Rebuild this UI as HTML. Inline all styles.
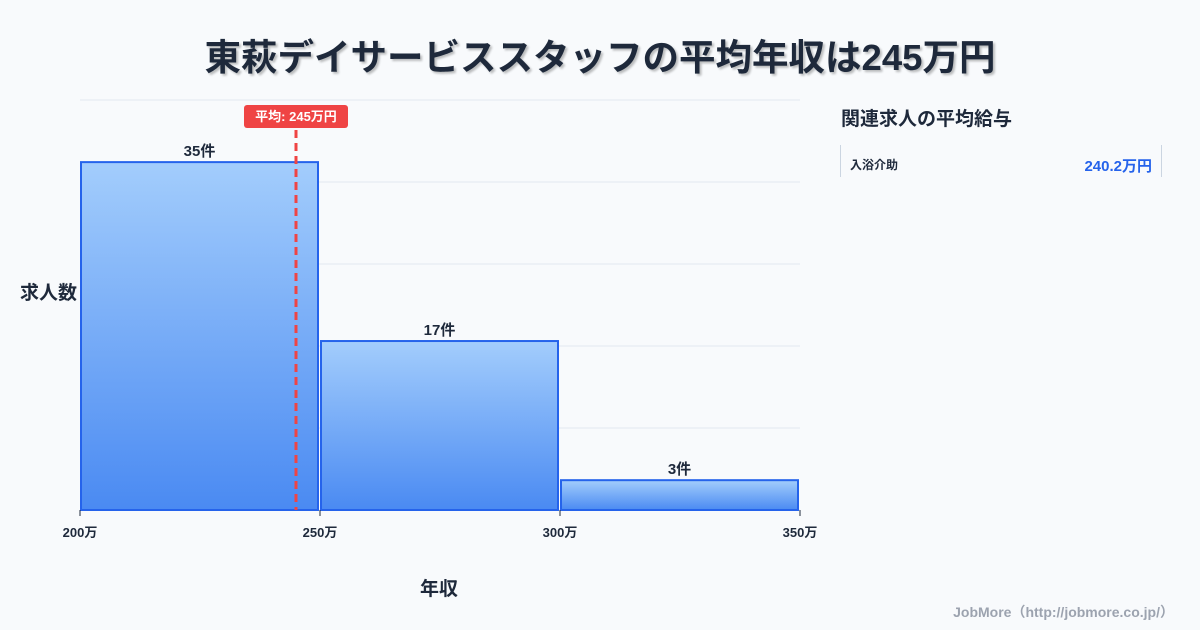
<!DOCTYPE html>
<html><head><meta charset="utf-8"><style>
body{margin:0;width:1200px;height:630px;background:#f8fafc;font-family:"Liberation Sans","Noto Sans CJK JP",sans-serif;overflow:hidden;position:relative}
.t{position:absolute;white-space:nowrap}
</style></head><body>
<div class="t" style="left:0;width:1200px;top:28px;text-align:center;font-size:36.5px;font-weight:bold;color:#1e293b;text-shadow:2px 2px 2px rgba(0,0,0,0.25)">東萩デイサービススタッフの平均年収は245万円</div>
<svg id="c" width="1200" height="630" style="position:absolute;left:0;top:0">
<defs><linearGradient id="g" x1="0" y1="0" x2="0" y2="1"><stop offset="0" stop-color="#a3cdfc"/><stop offset="1" stop-color="#4a8af2"/></linearGradient></defs>
</svg>
<div class="t" style="left:20px;top:278px;font-size:19px;font-weight:bold;color:#1e293b">求人数</div>
<div class="t" style="left:420px;top:574px;font-size:19px;font-weight:bold;color:#1e293b">年収</div>
<div class="t" style="left:841px;top:104px;font-size:19px;font-weight:bold;color:#1e293b">関連求人の平均給与</div>
<div style="position:absolute;left:840px;top:145px;width:320px;height:32px;border-left:1px solid #cbd5e1;border-right:1px solid #cbd5e1">
<span class="t" style="left:9px;top:11px;font-size:12px;font-weight:bold;color:#1e293b">入浴介助</span>
<span class="t" style="right:9px;top:10px;font-size:15px;font-weight:bold;color:#2563eb">240.2万円</span>
</div>
<div class="t" style="right:26px;top:602px;font-size:14px;font-weight:bold;color:#9ca3af">JobMore（http://jobmore.co.jp/）</div>
<script>
const binStarts=[200,250,300];
const binEnds=[250,300,350];
const counts=[35,17,3];
const xTicks=[200,250,300,350];
const avgValue=245;
const NS="http://www.w3.org/2000/svg";
const svg=document.getElementById('c');
const X0=80,X1=800,Y0=510,Y1=100,xmin=200,xmax=350,ymax=41.25;
const x=v=>X0+(v-xmin)/(xmax-xmin)*(X1-X0);
const y=v=>Y0-v/ymax*(Y0-Y1);
function el(t,a){const e=document.createElementNS(NS,t);for(const k in a)e.setAttribute(k,a[k]);svg.appendChild(e);return e;}
for(let i=0;i<=5;i++){const gy=Y1+i*(Y0-Y1)/5;const l=el('line',{x1:X0,x2:X1,y1:gy,y2:gy,stroke:'#e2e8f0','stroke-width':1});

}
counts.forEach((c,i)=>{
const bx=x(binStarts[i])+1,bw=x(binEnds[i])-x(binStarts[i])-3;
const r=el('rect',{x:bx,y:y(c),width:bw,height:Y0-y(c),fill:'url(#g)',stroke:'#2563eb','stroke-width':2});


const t=el('text',{x:bx+bw/2,y:y(c)-6,'text-anchor':'middle','font-size':15,'font-weight':'bold',fill:'#1e293b'});
t.textContent=c+'件';


});
xTicks.forEach(v=>{
const l=el('line',{x1:x(v),x2:x(v),y1:Y0,y2:Y0+6,stroke:'#1e293b','stroke-width':1});


const t=el('text',{x:x(v),y:Y0+27,'text-anchor':'middle','font-size':13,'font-weight':'bold',fill:'#1e293b'});
t.textContent=v+'万';


});
const ax=x(avgValue);
const al=el('line',{x1:ax,x2:ax,y1:130,y2:Y0,stroke:'#ef4444','stroke-width':3,'stroke-dasharray':'8,5'});


const ab=el('rect',{x:ax-52,y:105,width:104,height:23,rx:3,fill:'#ef4444'});


const at=el('text',{x:ax,y:121,'text-anchor':'middle','font-size':13,'font-weight':'bold',fill:'#fff'});
at.textContent='平均: '+avgValue+'万円';


</script>
</body></html>
